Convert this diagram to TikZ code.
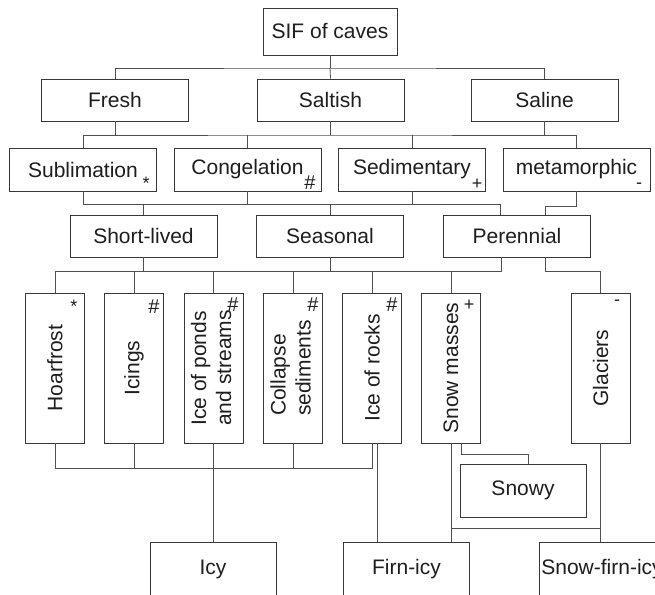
\documentclass[tikz,border=0pt]{standalone}
\usepackage{fontspec}
\setmainfont{Liberation Sans}
\usetikzlibrary{calc}
\definecolor{boxc}{HTML}{383838}
\definecolor{linec}{HTML}{505050}
\definecolor{txt}{HTML}{1E1E1E}
\begin{document}
\begin{tikzpicture}[x=1pt,y=-1pt,
  box/.style={draw=boxc, line width=0.95pt, inner sep=0pt, text=txt,
              font=\fontsize{21}{25}\selectfont},
  hbox/.style={box, minimum width=147pt, minimum height=42pt},
  vbox/.style={box, minimum width=59pt, minimum height=150pt},
  bbox/.style={box, minimum width=126pt, minimum height=54pt},
  conn/.style={draw=linec, line width=0.8pt},
  mk/.style={inner sep=0pt, text=txt, font=\fontsize{18}{18}\selectfont},
  mkh/.style={inner sep=0pt, text=txt, font=\fontsize{20}{20}\selectfont}]
\useasboundingbox (0,0) rectangle (655,594);
\fill[white] (0,0) rectangle (655,594);
\clip (0,0) rectangle (655,594);

% level 0
\node[box, minimum width=134pt, minimum height=47pt] (sif) at (330,31.5) {SIF of caves};
% level 1
\node[hbox] (fresh) at (115,100) {Fresh};
\node[hbox] (saltish) at (330.5,100) {Saltish};
\node[hbox] (saline) at (544.5,100) {Saline};
% level 2
\node[hbox, minimum height=43pt] (sub) at (83,169.5) {Sublimation};
\node[hbox, minimum height=43pt] (con) at (247.5,169.5) {Congelation};
\node[hbox, minimum height=43pt] (sed) at (412,169.5) {Sedimentary};
\node[hbox, minimum height=43pt] (met) at (576.5,169.5) {metamorphic};
\node[mk] (msub) at (146,183) {*};
\node[mkh] (mcon) at (310,183) {\#};
\node[mk] (msed) at (477,184) {+};
\node[mk] (mmet) at (639,186) {-};
% level 3
\node[hbox, minimum height=42pt] (short) at (143.5,236) {Short-lived};
\node[hbox, minimum height=42pt] (seas) at (330,236) {Seasonal};
\node[hbox, minimum height=42pt] (per) at (517,236) {Perennial};
% level 4
\node[vbox] (hoar) at (55,368) {\rotatebox{90}{Hoarfrost}};
\node[vbox] (icings) at (134,368) {\rotatebox{90}{Icings}};
\node[vbox] (ponds) at (213.5,368) {\rotatebox{90}{\begin{tabular}{@{}l@{}}Ice of ponds\\and streams\end{tabular}}};
\node[vbox] (coll) at (293,368) {\rotatebox{90}{\begin{tabular}{@{}l@{}}Collapse\\sediments\end{tabular}}};
\node[vbox] (rocks) at (372,368) {\rotatebox{90}{Ice of rocks}};
\node[vbox] (snowm) at (451,368) {\rotatebox{90}{Snow masses}};
\node[vbox] (glac) at (600.5,368) {\rotatebox{90}{Glaciers}};
\node[mk] (mhoar) at (74,306) {*};
\node[mkh] (micings) at (154,307) {\#};
\node[mkh] (mponds) at (233,305) {\#};
\node[mkh] (mcoll) at (313,305) {\#};
\node[mkh] (mrocks) at (392,305) {\#};
\node[mk] (msnowm) at (469,305) {+};
\node[mk] (mglac) at (617,303) {-};
% level 5
\node[box, minimum width=126pt, minimum height=53pt] (snowy) at (523,490.5) {Snowy};
\node[bbox] (icy) at (213,569) {Icy};
\node[bbox] (firn) at (406.5,569) {Firn-icy};
\node[bbox] (sfi) at (602,569) {Snow-firn-icy};

% connectors 0 -> 1
\coordinate (j1) at (330,68);
\draw[conn] (sif.south) -- (j1);
\draw[conn] (fresh.north) |- (j1) -| (saline.north);
\draw[conn] (j1) -- (saltish.north);
% 1 -> 2
\coordinate (j2) at (330,135);
\draw[conn] (sub.north) |- (j2) -| (met.north);
\draw[conn] (con.north) -- (con.north |- j2);
\draw[conn] (sed.north) -- (sed.north |- j2);
\draw[conn] (fresh.south) -- (fresh.south |- j2);
\draw[conn] (saltish.south) -- (saltish.south |- j2);
\draw[conn] (saline.south) -- (saline.south |- j2);
% 2 -> 3
\coordinate (j3) at (500,204);
\draw[conn] (sub.south) |- (j3) -- (j3 |- per.north);
\draw[conn] (con.south) -- (con.south |- j3);
\draw[conn] (sed.south) -- (sed.south |- j3);
\draw[conn] (short.north) -- (short.north |- j3);
\draw[conn] (seas.north) -- (seas.north |- j3);
\coordinate (j3b) at (545,206);
\draw[conn] (met.south) |- (j3b) -- (j3b |- per.north);
% 3 -> 4
\coordinate (j4) at (501,271);
\draw[conn] (hoar.north) |- (j4) -- (j4 |- per.south);
\draw[conn] (short.south) -- (short.south |- j4);
\draw[conn] (seas.south) -- (seas.south |- j4);
\foreach \n in {icings,ponds,coll,rocks,snowm}
  \draw[conn] (\n.north) -- (\n.north |- j4);
\coordinate (j4b) at (545,271);
\draw[conn] (j4b |- per.south) -- (j4b) -| (glac.north);
% 4 -> 5
\coordinate (j5) at (372,468);
\draw[conn] (hoar.south) |- (j5) -- (j5 |- rocks.south);
\draw[conn] (icings.south) -- (icings.south |- j5);
\draw[conn] (coll.south) -- (coll.south |- j5);
\draw[conn] (ponds.south) -- (ponds.south |- icy.north);
\draw[conn] (rocks.south -| 377,0) -- (firn.north -| 377,0);
\draw[conn] (snowm.south) -- (snowm.south |- firn.north);
\coordinate (j6) at (451,528);
\draw[conn] (j6) -- (j6 -| glac.south);
\draw[conn] (glac.south) -- (glac.south |- sfi.north);
\coordinate (j7) at (528,454);
\draw[conn] (snowm.south -| 461,0) |- (j7) -- (j7 |- snowy.north);
\end{tikzpicture}
\end{document}
